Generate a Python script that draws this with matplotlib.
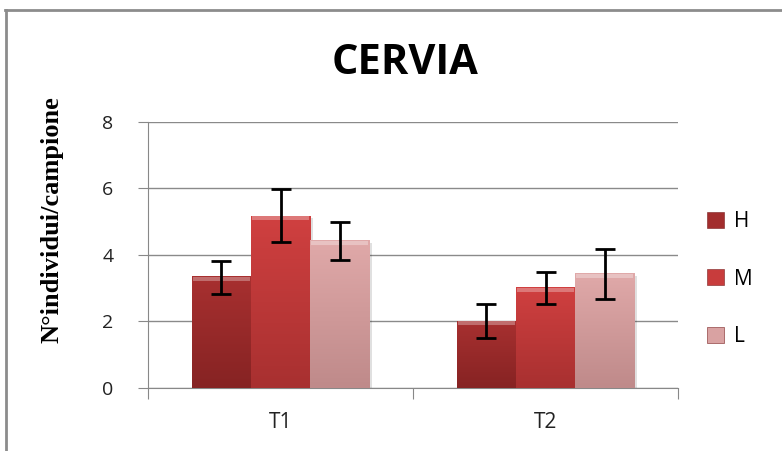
import numpy as np
import matplotlib
matplotlib.use("Agg")
from matplotlib import pyplot as plt
from matplotlib.lines import Line2D
from matplotlib.colors import LinearSegmentedColormap

# Data
groups = ["T1", "T2"]
series = ["H", "M", "L"]
H_vals = [3.37, 2.02]
M_vals = [5.18, 3.03]
L_vals = [4.45, 3.45]
H_err_lo = [2.84, 1.49]
H_err_hi = [3.83, 2.52]
M_err_lo = [4.39, 2.54]
M_err_hi = [5.97, 3.48]
L_err_lo = [3.85, 2.69]
L_err_hi = [4.98, 4.17]

colors = ["#a22d2d", "#c83c3c", "#d9a2a2"]
# bottom -> top colours used for the bar shading
shades = [("#862323", "#a83030"), ("#a83030", "#d04040"), ("#bf8a8a", "#e0a9a9")]

fig = plt.figure(figsize=(7.82, 4.51), dpi=100)
ax = fig.add_axes([0.1893, 0.1397, 0.6777, 0.5898])

# chart frame (partially cropped like the original)
fig.add_artist(Line2D([0.0064, 1.0], [0.978, 0.978], color="#8c8c8c", lw=2))
fig.add_artist(Line2D([0.0071, 0.0071], [0.0, 0.978], color="#8c8c8c", lw=2))

x = np.arange(len(groups))
w = 0.223
vals = [H_vals, M_vals, L_vals]
lo = [H_err_lo, M_err_lo, L_err_lo]
hi = [H_err_hi, M_err_hi, L_err_hi]

grad = np.linspace(0, 1, 100).reshape(-1, 1)

for i, name in enumerate(series):
    pos = x + (i - 1) * w
    v = np.array(vals[i])
    # soft drop shadow
    ax.bar(pos + 0.01, v, w, bottom=-0.08, color="#000000", alpha=0.12, zorder=2)
    bars = ax.bar(pos, v, w, color=colors[i], edgecolor="#7a2020", linewidth=0.4,
                  label=name, zorder=3)
    cmap = LinearSegmentedColormap.from_list("s%d" % i, shades[i])
    for b in bars:
        bx, by = b.get_x(), b.get_y()
        im = ax.imshow(grad, cmap=cmap, origin="lower", aspect="auto", zorder=3.5,
                       extent=[bx, bx + b.get_width(), by, by + b.get_height()])
        im.set_clip_path(b)
    # light bevel on top of each bar
    ax.bar(pos, [0.12] * len(v), w * 0.96, bottom=v - 0.14, color="white", alpha=0.3,
           zorder=4)
    yerr = [v - np.array(lo[i]), np.array(hi[i]) - v]
    ax.errorbar(pos, v, yerr=yerr, fmt="none", ecolor="black", elinewidth=2,
                capsize=7, capthick=2, zorder=5)

ax.set_xlim(-0.5, 1.5)
ax.set_ylim(0, 8)
ax.set_yticks([0, 2, 4, 6, 8])
ax.set_xticks([-0.5, 0.5, 1.5], minor=False)
ax.set_xticklabels([])
ax.set_xticks(x, minor=True)
ax.set_xticklabels(groups, minor=True)
ax.tick_params(axis="x", which="minor", length=0, pad=17, labelsize=15, labelcolor="#222222")
ax.tick_params(axis="x", which="major", length=8, color="#888888")
ax.tick_params(axis="y", length=7, color="#888888", labelsize=14, labelcolor="#222222", pad=18)
for lab in ax.get_xticklabels(minor=True) + ax.get_yticklabels():
    lab.set_family("Open Sans")

ax.grid(axis="y", color="#8a8a8a", lw=1, zorder=0)
ax.set_axisbelow(True)
for s in ["top", "right"]:
    ax.spines[s].set_visible(False)
ax.spines["left"].set_color("#888888")
ax.spines["bottom"].set_color("#888888")

fig.text(0.0665, 0.512, "N°individui/campione", family="Liberation Serif", fontweight="bold",
         fontsize=19, rotation=90, ha="center", va="center")
fig.text(0.518, 0.86, "CERVIA", ha="center", va="center", family="Open Sans",
         fontweight="bold", fontsize=30)

leg = fig.legend(loc="center left", bbox_to_anchor=(0.88, 0.381), frameon=False,
                 labelspacing=1.75, handlelength=0.8, handleheight=0.8,
                 handletextpad=0.5, prop={"family": "Open Sans", "size": 15})

fig.savefig("out.png", dpi=100)
